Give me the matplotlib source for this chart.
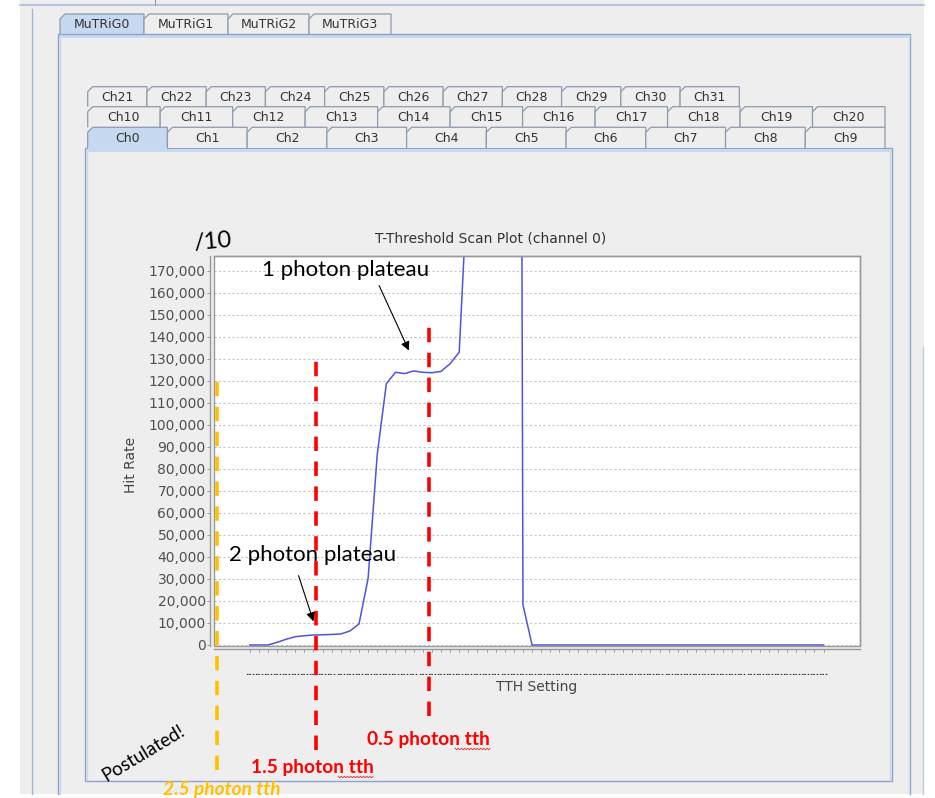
import numpy as np
import matplotlib
matplotlib.use('Agg')
import matplotlib.pyplot as plt
from matplotlib.patches import Polygon, Rectangle

W, H, DPI = 935, 798, 100

# ---------------- data ----------------
tth_setting = np.arange(64)
hit_rate = [0, 0, 0, 1200, 2600, 3770, 4200, 4545, 4650, 4800,
            5000, 6360, 9545, 30300, 86400, 118600, 123800, 123200, 124400, 123800,
            123600, 124200, 127700, 132900, 217000, 480000, 900000, 1200000, 1400000, 1456000,
            18200, 0, 0, 0, 0, 0, 0, 0, 0, 0,
            0, 0, 0, 0, 0, 0, 0, 0, 0, 0,
            0, 0, 0, 0, 0, 0, 0, 0, 0, 0,
            0, 0, 0, 0]
y_ticks = [0, 10000, 20000, 30000, 40000, 50000, 60000, 70000, 80000, 90000,
           100000, 110000, 120000, 130000, 140000, 150000, 160000, 170000]
x_tick_labels = ['...'] * 64

threshold_x = [-3.62, 7.25, 19.63]
threshold_top = [123000, 132100, 148400]
threshold_bottom = [-56700, -47700, -32200]
threshold_labels = ['2.5 photon tth', '1.5 photon tth', '0.5 photon tth']
threshold_label_pos = [(-3.1, -68100), (6.9, -58100), (19.57, -45400)]

mutrig_tabs = ['MuTRiG0', 'MuTRiG1', 'MuTRiG2', 'MuTRiG3']
ch_row_top = ['Ch%d' % i for i in range(21, 32)]
ch_row_mid = ['Ch%d' % i for i in range(10, 21)]
ch_row_bot = ['Ch%d' % i for i in range(0, 10)]

ORANGE = '#ffc000'
RED = '#ff0000'
BLUE = '#5252e0'
BORDER = '#8aa2cc'
LIGHT = '#c9d9ee'
TABEDGE = '#8e9aad'
SEL = '#c6d9f0'
GUIBG = '#eeeeee'

fig = plt.figure(figsize=(W / DPI, H / DPI), dpi=DPI)
fig.patch.set_facecolor('white')

# ---------------- GUI background (pixel coords) ----------------
bg = fig.add_axes([0, 0, 1, 1], zorder=0)
bg.set_xlim(0, W)
bg.set_ylim(H, 0)
bg.axis('off')

bg.add_patch(Rectangle((20, 0), 904, 794, facecolor=GUIBG, edgecolor='none'))
bg.plot([20, 924], [5, 5], color='#a9bde0', lw=1.2)
bg.plot([155, 155], [0, 5], color='#999999', lw=0.8)
bg.plot([32, 32], [9, 794], color='#9fb3d8', lw=1.0)
bg.plot([922.7, 922.7], [347, 794], color='#bccfe6', lw=1.0)

# MuTRiG panel (bottom edge lies below the visible area)
bg.plot([58, 58, 910, 910], [794, 34, 34, 794], color=BORDER, lw=1.0)
bg.add_patch(Rectangle((59, 35), 850, 3, facecolor=LIGHT, edgecolor='none'))
bg.plot([59.5, 59.5], [35, 794], color=LIGHT, lw=1.0)
bg.plot([908.5, 908.5], [35, 794], color=LIGHT, lw=1.0)


def tab(x0, x1, y0, y1, label, selected):
    pts = [(x0, y1), (x0, y0 + 5), (x0 + 5, y0), (x1, y0), (x1, y1)]
    bg.add_patch(Polygon(pts, closed=False,
                         facecolor=SEL if selected else GUIBG,
                         edgecolor=TABEDGE, lw=0.9))
    if selected:
        bg.add_patch(Rectangle((x0 + 0.6, y1 - 1), x1 - x0 - 1.2, 4,
                               facecolor=SEL, edgecolor='none'))
    bg.text((x0 + x1) / 2, (y0 + y1) / 2 + 0.5, label, ha='center', va='center',
            fontsize=9, color='#333333')


mut_edges = [60, 144, 228, 309, 391]
for k, lab in enumerate(mutrig_tabs):
    tab(mut_edges[k], mut_edges[k + 1], 14, 34, lab, k == 0)

# Channel panel
bg.add_patch(Rectangle((85, 148), 806.7, 633, facecolor=GUIBG, edgecolor=BORDER, lw=1.0))
bg.add_patch(Rectangle((86, 149), 804.7, 3, facecolor=LIGHT, edgecolor='none'))
bg.plot([86.5, 86.5], [149, 780], color=LIGHT, lw=1.0)
bg.plot([890, 890], [149, 780], color=LIGHT, lw=1.0)

rows = [(ch_row_top, 87.7, 739.3, 86.7, 106.7),
        (ch_row_mid, 87.7, 885.0, 106.7, 127.3),
        (ch_row_bot, 87.7, 885.0, 127.3, 148.0)]
for labels, xa, xb, ya, yb in rows:
    edges = np.linspace(xa, xb, len(labels) + 1)
    for k, lab in enumerate(labels):
        tab(edges[k], edges[k + 1], ya, yb, lab, lab == 'Ch0')

# ---------------- chart ----------------
ax = fig.add_axes([214 / W, (H - 646) / H, (860 - 214) / W, (646 - 256) / H], zorder=2)
ax.set_facecolor('white')
ax.set_xlim(-3.92, 67.0)
ax.set_ylim(-454, 176585)

ax.plot(tth_setting, hit_rate, color=BLUE, lw=1.1, zorder=3)

ax.set_yticks(y_ticks)
ax.set_yticklabels(['{:,}'.format(v) for v in y_ticks])
ax.set_xticks(tth_setting)
ax.set_xticklabels(x_tick_labels)
ax.yaxis.grid(True, color='#c4c4c4', linestyle=(0, (2, 2)), lw=0.8)
ax.set_axisbelow(True)

for s in ax.spines.values():
    s.set_color('#9a9a9a')
    s.set_linewidth(1.0)
ax.spines['left'].set_position(('outward', 3))
ax.spines['bottom'].set_position(('outward', 2))
ax.add_patch(Rectangle((0, 0), 1, 1, transform=ax.transAxes, fill=False,
                       edgecolor='#9a9a9a', lw=1.0, clip_on=False, zorder=4))

ax.tick_params(axis='y', direction='out', length=2, width=0.7, color='#999999',
               labelsize=10, labelcolor='#505050', pad=1)
ax.tick_params(axis='x', direction='out', length=2.5, width=0.7, color='#999999',
               labelsize=6.5, labelcolor='#333333', pad=11)
for t in ax.get_xticklabels():
    t.set_fontweight('bold')

# threshold lines + labels
for k in range(3):
    col = ORANGE if k == 0 else RED
    ax.plot([threshold_x[k], threshold_x[k]], [threshold_bottom[k], threshold_top[k]],
            color=col, lw=2.6, linestyle=(0, (4.0, 2.9)), clip_on=False, zorder=6)
    ax.text(threshold_label_pos[k][0], threshold_label_pos[k][1], threshold_labels[k],
            ha='center', va='baseline', fontsize=13.8, fontweight='bold',
            fontstyle='italic' if k == 0 else 'normal',
            family='Lato', color=col, clip_on=False, zorder=6)

# plateau annotations
ax.annotate('', xy=(17.6, 132550), xytext=(14.08, 164330),
            arrowprops=dict(arrowstyle='-|>', color='black', lw=0.8, mutation_scale=13),
            annotation_clip=False, zorder=7)
ax.annotate('', xy=(7.09, 9530), xytext=(5.27, 32680),
            arrowprops=dict(arrowstyle='-|>', color='black', lw=0.8, mutation_scale=13),
            annotation_clip=False, zorder=7)

# ---------------- overlay texts (pixel coords) ----------------
ov = fig.add_axes([0, 0, 1, 1], zorder=5)
ov.set_xlim(0, W)
ov.set_ylim(H, 0)
ov.axis('off')
ov.patch.set_alpha(0)

ov.text(491, 239, 'T-Threshold Scan Plot (channel 0)', ha='center', va='center',
        fontsize=10, color='#333333')
ov.text(131, 465, 'Hit Rate', rotation=90, ha='center', va='center',
        fontsize=10, color='#444444')
ov.text(537, 687, 'TTH Setting', ha='center', va='center', fontsize=10, color='#444444')

ov.text(346, 276.5, '1 photon plateau', ha='center', va='baseline', fontsize=16,
        family='Lato', color='black')
ov.text(312.5, 560.7, '2 photon plateau', ha='center', va='baseline', fontsize=16,
        family='Lato', color='black')
ov.text(143, 753, 'Postulated!', rotation=31, ha='center', va='center', fontsize=13.5,
        family='Lato', color='black')
ov.text(213, 242, '/10', ha='center', va='center', fontsize=17, family='Lato',
        color='black', rotation=5)


def squiggle(x0, x1, y):
    xs = np.arange(x0, x1 + 0.01, 1.6)
    ys = y + np.where(np.arange(len(xs)) % 2 == 0, -0.8, 0.8)
    ov.plot(xs, ys, color='#e03030', lw=0.6)


squiggle(455, 491, 749)
squiggle(338, 374, 777)

fig.savefig('out.png', dpi=DPI, facecolor=fig.get_facecolor())
